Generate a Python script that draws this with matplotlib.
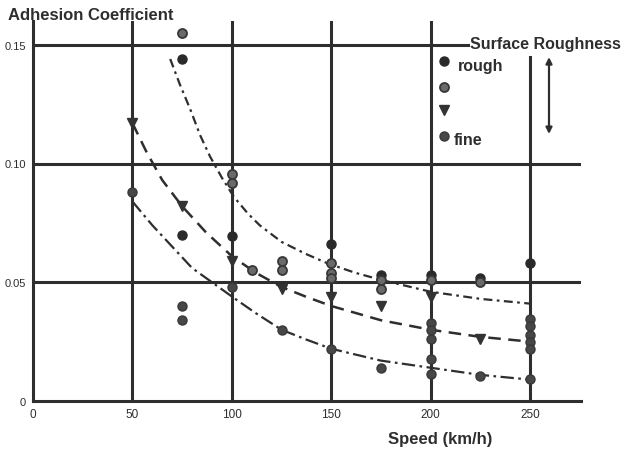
import numpy as np
import matplotlib
matplotlib.use("Agg")
import matplotlib.pyplot as plt

plt.rcParams["font.family"] = ["Liberation Sans", "DejaVu Sans"]

INK = "#2e2e2e"

# measured points, speed (km/h) vs adhesion coefficient
rough_x = [75, 75, 100, 150, 175, 200, 225, 250]
rough_y = [0.144, 0.070, 0.0695, 0.066, 0.053, 0.053, 0.052, 0.058]

medium_x = [75, 100, 100, 110, 125, 125, 150, 150, 150, 175, 175, 200, 225]
medium_y = [0.155, 0.0956, 0.092, 0.055, 0.059, 0.055, 0.058, 0.054, 0.052,
            0.051, 0.047, 0.051, 0.050]

medfine_x = [50, 75, 100, 125, 150, 175, 200, 225]
medfine_y = [0.117, 0.082, 0.059, 0.047, 0.044, 0.040, 0.044, 0.026]

fine_x = [50, 75, 75, 100, 125, 150, 175, 200, 200, 200, 200, 200, 225,
          250, 250, 250, 250, 250, 250]
fine_y = [0.088, 0.040, 0.034, 0.048, 0.030, 0.022, 0.014, 0.033, 0.030,
          0.026, 0.0177, 0.0114, 0.0105, 0.0345, 0.0316, 0.028, 0.025,
          0.022, 0.0093]

# trend curves
top_x = [69, 74, 79, 84, 89, 95, 101, 108, 114, 125, 137, 148, 162, 175, 190, 200, 225, 250]
top_y = [0.144, 0.133, 0.123, 0.112, 0.103, 0.094, 0.086, 0.079, 0.074, 0.067,
         0.062, 0.058, 0.054, 0.051, 0.048, 0.046, 0.043, 0.041]
mid_x = [50, 57, 65, 75, 87, 100, 112, 125, 137, 150, 175, 200, 225, 250]
mid_y = [0.117, 0.105, 0.093, 0.082, 0.071, 0.061, 0.054, 0.048, 0.044,
         0.040, 0.034, 0.030, 0.027, 0.025]
low_x = [50, 60, 70, 80, 90, 100, 112, 125, 137, 150, 175, 200, 225, 250]
low_y = [0.084, 0.074, 0.065, 0.056, 0.050, 0.044, 0.037, 0.030, 0.026,
         0.022, 0.017, 0.014, 0.011, 0.009]

x_ticks = [0, 50, 100, 150, 200, 250]
y_ticks = [0, 0.05, 0.10, 0.15]
y_tick_labels = ["0", "0.05", "0.10", "0.15"]

fig = plt.figure(figsize=(6.21, 4.56), dpi=100)
ax = fig.add_axes([33 / 621, 1 - 402 / 456, 548 / 621, 380 / 456])
ax.set_xlim(0, 275.6)
ax.set_ylim(0, 0.160)

# heavy grid
for yv in [0.05, 0.10]:
    ax.axhline(yv, color=INK, lw=2.2, zorder=1)
ax.axhline(0.15, xmax=0.80, color=INK, lw=2.2, zorder=1)
for xv in [50, 100, 150, 200]:
    ax.axvline(xv, color=INK, lw=2.2, zorder=1)
ax.axvline(250, ymax=0.905, color=INK, lw=2.2, zorder=1)

for s in ["top", "right"]:
    ax.spines[s].set_visible(False)
for s in ["left", "bottom"]:
    ax.spines[s].set_linewidth(2.2)
    ax.spines[s].set_color(INK)

ax.plot(top_x, top_y, color=INK, lw=1.6, ls=(0, (4, 2, 1.2, 2)), zorder=2)
ax.plot(mid_x, mid_y, color=INK, lw=1.8, ls=(0, (5, 3)), zorder=2)
ax.plot(low_x, low_y, color=INK, lw=1.6, ls=(0, (6, 2, 1.2, 2)), zorder=2)

styles = [
    (rough_x, rough_y, dict(marker="o", ms=6.5, mfc="#2a2a2a", mec="#2a2a2a")),
    (medium_x, medium_y, dict(marker="o", ms=6.5, mfc="#6a6a6a", mec="#383838", mew=1.3)),
    (medfine_x, medfine_y, dict(marker="v", ms=6.5, mfc="#333333", mec="#333333")),
    (fine_x, fine_y, dict(marker="o", ms=6.5, mfc="#474747", mec="#383838")),
]
for xs, ys, st in styles:
    ax.plot(xs, ys, ls="none", zorder=3, **st)

ax.set_xticks(x_ticks)
ax.set_xticklabels([str(v) for v in x_ticks], fontsize=8.5, color=INK)
ax.set_yticks(y_ticks)
ax.set_yticklabels(y_tick_labels, fontsize=8, color=INK)
ax.tick_params(length=0, pad=5)

# legend drawn by hand
leg_y = [0.895, 0.826, 0.766, 0.697]
for (xs, ys, st), ly in zip(styles, leg_y):
    ax.plot([0.75], [ly], ls="none", transform=ax.transAxes, clip_on=False, **st)
ax.text(0.776, 0.884, "rough", transform=ax.transAxes, fontsize=11.5,
        fontweight="bold", color=INK, va="center")
ax.text(0.768, 0.688, "fine", transform=ax.transAxes, fontsize=11.5,
        fontweight="bold", color=INK, va="center")
ax.annotate("", xy=(0.9416, 0.905), xytext=(0.9416, 0.7026),
            xycoords="axes fraction",
            arrowprops=dict(arrowstyle="<|-|>", color=INK, lw=1.6,
                            mutation_scale=9, shrinkA=0, shrinkB=0))

fig.text(470 / 621, 1 - 45 / 456, "Surface Roughness", fontsize=11.5,
         fontweight="bold", color=INK, va="center", ha="left",
         bbox=dict(facecolor="white", edgecolor="none", pad=0))
fig.text(8 / 621, 1 - 16 / 456, "Adhesion Coefficient", fontsize=12,
         fontweight="bold", color=INK, va="center", ha="left")
fig.text(440 / 621, 1 - 440 / 456, "Speed (km/h)", fontsize=12,
         fontweight="bold", color=INK, va="center", ha="center")

fig.savefig("out.png", dpi=100)
